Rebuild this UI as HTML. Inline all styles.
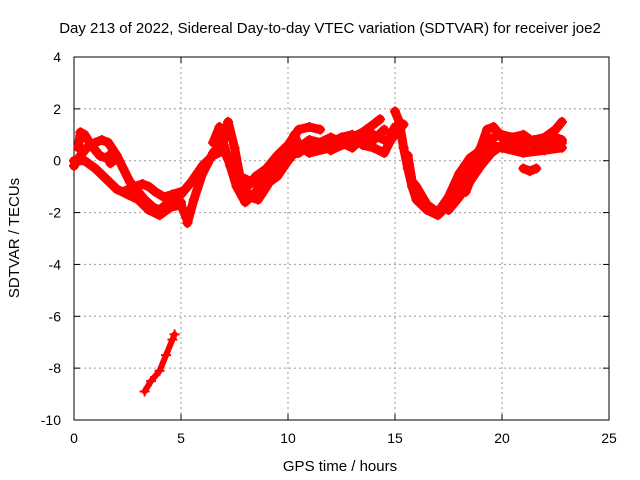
<!DOCTYPE html>
<html><head><meta charset="utf-8"><style>
body{margin:0;background:#fff}
svg{display:block;font-family:"Liberation Sans",sans-serif}
</style></head><body>
<svg id="chart" width="640" height="480">
<text x="330" y="33" text-anchor="middle" font-size="15">Day 213 of 2022, Sidereal Day-to-day VTEC variation (SDTVAR) for receiver joe2</text>
<g id="grid"></g>
<rect x="74" y="57" width="535" height="363" fill="none" stroke="#000" stroke-width="1"/>
<g id="ticks"></g>
<g id="marks"></g>
<text x="340" y="471" text-anchor="middle" font-size="15">GPS time / hours</text>
<text transform="translate(19,238) rotate(-90)" text-anchor="middle" font-size="15">SDTVAR / TECUs</text>
</svg>
<script>
const xTicks=[0,5,10,15,20,25];
const yTicks=[4,2,0,-2,-4,-6,-8,-10];
const trackA=[[0,-0.2],[0.3,0.2],[0.6,0.5],[1,0.7],[1.3,0.8],[1.6,0.7],[2,0.2],[2.3,-0.3],[2.6,-0.8],[3,-1.2],[3.3,-1.5],[3.7,-1.8],[4,-1.9],[4.3,-1.7],[4.6,-1.5],[5,-1.6]];
const trackB=[[0,0],[0.5,0],[1,-0.3],[1.5,-0.7],[2,-1.1],[2.5,-1.3],[3,-1.5],[3.5,-1.9],[4,-2.1],[4.5,-1.8],[5,-1.7],[5.3,-2.3]];
const trackC=[[0.2,0.5],[0.3,1.1],[0.5,1.0],[0.8,0.6],[1.2,0.2],[1.5,0.1],[1.8,0.3],[2.0,0.1],[1.7,-0.1]];
const trackD=[[2.3,-1.2],[2.8,-1.0],[3.2,-0.9],[3.5,-1.0],[3.8,-1.2],[4.2,-1.4],[4.6,-1.3],[5,-1.2]];
const trackE=[[5.3,-2.4],[5.6,-1.5],[6,-0.5],[6.5,0.3],[7,0.8],[7.2,1.5],[7.5,0.5],[7.8,-0.8],[8.2,-1.4],[8.6,-1.5],[9,-1],[9.5,-0.3],[10,0.5],[10.3,1.0],[10.5,0.6],[11,0.3],[12,0.5],[13,0.7],[14,1.0],[14.5,0.8]];
const trackF=[[5,-1.3],[5.5,-0.8],[6,-0.2],[6.5,0.2],[7,0.4],[7.5,-0.5],[8,-1.1],[8.5,-0.6],[9,-0.3],[9.5,0.2],[10,0.6],[10.5,1.2],[11,1.3],[11.5,1.2]];
const trackG=[[6.5,0.7],[6.8,1.3],[7,0.6],[7.3,-0.2],[7.6,-1.0],[8,-1.6],[8.5,-1.2],[9,-0.6],[9.5,-0.1],[10,0.2],[10.5,0.3],[11,0.6],[11.5,0.5],[12,0.7],[12.5,0.9],[13,1.0],[13.5,0.6],[14,0.5],[14.5,0.3],[14.8,0.8],[15,1.0]];
const trackH=[[12,0.4],[12.5,0.6],[13,0.9],[13.5,1.1],[14,1.4],[14.3,1.6]];
const trackN=[[8,-0.7],[8.5,-0.9],[9,-0.9],[9.5,-0.6],[10,0.0],[10.5,0.5],[11,0.8],[11.5,0.7],[12,0.9],[12.5,0.7],[13,0.5],[13.5,0.9],[14,0.8],[14.5,1.2]];
const trackI=[[15,1.9],[15.2,1.5],[15.4,0.5],[15.6,-0.3],[15.8,-1],[16,-1.5],[16.5,-1.9],[17,-2.1],[17.5,-1.7],[18,-1.0],[18.5,-0.3],[19,0.5],[19.3,1.2],[19.6,1.3],[20,0.9],[20.5,0.7],[21,0.6],[21.5,0.8],[22,0.9],[22.5,1.2],[22.8,1.5]];
const trackJ=[[15.6,0.2],[15.8,-0.8],[16,-1.0],[16.5,-1.7],[17,-2.0],[17.5,-1.4],[18,-0.5],[18.5,0.1],[19,0.4],[19.5,0.6],[20,0.5],[21,0.3],[22,0.4],[22.8,0.5]];
const trackK=[[17.5,-1.9],[18,-1.4],[18.5,-0.8],[19,-0.2],[19.5,0.3],[20,0.6],[20.5,0.5],[21,0.8],[21.5,0.6],[22,0.7],[22.5,0.9],[22.8,0.8]];
const trackP=[[18.3,-1.2],[18.6,-0.6],[18.9,0.0],[19.2,0.3],[19.6,0.9],[20,1.0],[20.5,0.9],[21,1.0],[21.5,0.7],[22,0.5],[22.5,0.6],[22.8,0.7]];
const trackL=[[21,-0.3],[21.3,-0.4],[21.6,-0.3]];
const trackM=[[14.8,1.0],[15,1.3],[15.2,1.2],[15.4,1.4]];
const trackOut=[[3.3,-8.9],[3.6,-8.5],[4,-8.1],[4.3,-7.5],[4.6,-6.9],[4.7,-6.7]];
const tracks=[trackA,trackB,trackC,trackD,trackE,trackF,trackG,trackH,trackN,trackI,trackJ,trackK,trackP,trackL,trackM];

const NS="http://www.w3.org/2000/svg";
const X0=74,X1=609,Y0=420,Y1=57;
function xs(v){return X0+(v-0)/(25-0)*(X1-X0);}
function ys(v){return Y0-(v-(-10))/(4-(-10))*(Y0-Y1);}
const grid=document.getElementById('grid'),ticks=document.getElementById('ticks'),marks=document.getElementById('marks');
function mk(tag,attrs,parent){const e=document.createElementNS(NS,tag);for(const k in attrs)e.setAttribute(k,attrs[k]);parent.appendChild(e);return e;}
xTicks.forEach(t=>{
 const x=xs(t);
 if(t>0&&t<25){const g=mk('line',{x1:x,x2:x,y1:Y1,y2:Y0,stroke:'#999','stroke-dasharray':'2,3'},grid);
 
 }
 const l=mk('text',{x:x,y:443,'text-anchor':'middle','font-size':14},ticks);l.textContent=t;
 
 
 mk('line',{x1:x,x2:x,y1:Y0,y2:Y0-6,stroke:'#000'},ticks);
 mk('line',{x1:x,x2:x,y1:Y1,y2:Y1+6,stroke:'#000'},ticks);
});
yTicks.forEach(t=>{
 const y=ys(t);
 if(t<4&&t>-10){const g=mk('line',{x1:X0,x2:X1,y1:y,y2:y,stroke:'#999','stroke-dasharray':'2,3'},grid);
 
 }
 const l=mk('text',{x:61,y:y+5,'text-anchor':'end','font-size':14},ticks);l.textContent=t;
 
 
 mk('line',{x1:X0,x2:X0+6,y1:y,y2:y,stroke:'#000'},ticks);
 mk('line',{x1:X1,x2:X1-6,y1:y,y2:y,stroke:'#000'},ticks);
});
function drawTrack(tr,w){
 const pl=mk('polyline',{points:tr.map(p=>xs(p[0])+','+ys(p[1])).join(' '),fill:'none',stroke:'#f00','stroke-width':w,'stroke-linejoin':'round','stroke-linecap':'round'},marks);
 
 
 tr.forEach(p=>{
  const x=xs(p[0]),y=ys(p[1]);
  const m=mk('path',{d:`M${x-5},${y}H${x+5}M${x},${y-5}V${y+5}`,stroke:'#f00','stroke-width':2},marks);
  
  
 });
}
tracks.forEach(tr=>drawTrack(tr,9));
drawTrack(trackOut,6);
</script>
</body></html>
